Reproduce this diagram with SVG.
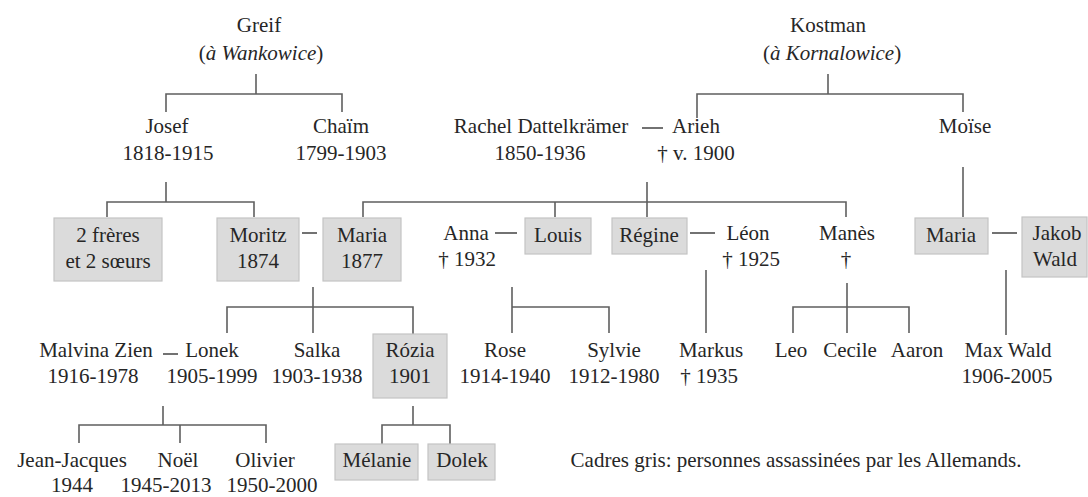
<svg xmlns="http://www.w3.org/2000/svg" width="1088" height="497" viewBox="0 0 1088 497">
<rect width="1088" height="497" fill="#fff"/>
<g id="connectors" fill="none" stroke="#5f5f5f" stroke-width="1.6">
<path d="M256 74V94M166 112V94H342V112"/>
<path d="M828 74V94M697 118V94H963V112"/>
<path d="M166 182V202M107 217V202H254V217"/>
<path d="M647 182V217M363 217V202H846V217M555 202V217"/>
<path d="M963 167V217"/>
<path d="M313 287V333M227 333V307H413V334"/>
<path d="M512 287V333V307H609V333"/>
<path d="M706 270V333"/>
<path d="M847 283V333M793 333V307H909V333"/>
<path d="M1006 270V335"/>
<path d="M163 406V425M79 443V425H266V443M180 425V443"/>
<path d="M413 406V425M382 444V425H450V444"/>
<path stroke="#444" stroke-width="1.3" d="M642 128H663M302 233H317M495 233H517M690 233H715M992 233H1017M163 354H178"/>
</g>
<g id="boxes" fill="#dbdbdb" stroke="#c4c4c4" stroke-width="1.2">
<rect x="54" y="218" width="108" height="63"/>
<rect x="217" y="218" width="82" height="63"/>
<rect x="323" y="218" width="78" height="63"/>
<rect x="525" y="218" width="66" height="36"/>
<rect x="612" y="218" width="75" height="36"/>
<rect x="915" y="218" width="73" height="36"/>
<rect x="1022" y="217" width="65" height="60"/>
<rect x="373" y="334" width="74" height="64"/>
<rect x="335" y="444" width="83" height="36"/>
<rect x="428" y="444" width="67" height="36"/>
</g>
<g id="nodes" fill="#262626" text-anchor="middle">
<g id="greif"><text font-family="Liberation Serif" font-size="21" x="259" y="32">Greif</text><text font-family="Liberation Serif" font-size="21" x="261" y="60">(<tspan font-style="italic">à Wankowice</tspan>)</text></g>
<g id="kostman"><text font-family="Liberation Serif" font-size="21" x="828" y="32">Kostman</text><text font-family="Liberation Serif" font-size="21" x="832" y="60">(<tspan font-style="italic">à Kornalowice</tspan>)</text></g>
<g id="josef"><text font-family="Liberation Serif" font-size="21" x="167" y="133">Josef</text><text font-family="Liberation Serif" font-size="21" x="168" y="160">1818-1915</text></g>
<g id="chaim"><text font-family="Liberation Serif" font-size="21" x="341" y="133">Chaïm</text><text font-family="Liberation Serif" font-size="21" x="341" y="160">1799-1903</text></g>
<g id="rachel"><text font-family="Liberation Serif" font-size="21" x="541" y="133">Rachel Dattelkrämer</text><text font-family="Liberation Serif" font-size="21" x="540" y="160">1850-1936</text></g>
<g id="arieh"><text font-family="Liberation Serif" font-size="21" x="696" y="133">Arieh</text><text font-family="Liberation Serif" font-size="21" x="696" y="160">† v. 1900</text></g>
<g id="moise"><text font-family="Liberation Serif" font-size="21" x="965" y="133">Moïse</text></g>
<g id="freres"><text font-family="Liberation Serif" font-size="21" x="108" y="242">2 frères</text><text font-family="Liberation Serif" font-size="21" x="108" y="268">et 2 sœurs</text></g>
<g id="moritz"><text font-family="Liberation Serif" font-size="21" x="258" y="242">Moritz</text><text font-family="Liberation Serif" font-size="21" x="258" y="268">1874</text></g>
<g id="maria1"><text font-family="Liberation Serif" font-size="21" x="362" y="242">Maria</text><text font-family="Liberation Serif" font-size="21" x="362" y="268">1877</text></g>
<g id="anna"><text font-family="Liberation Serif" font-size="21" x="466" y="240">Anna</text><text font-family="Liberation Serif" font-size="21" x="467" y="266">† 1932</text></g>
<g id="louis"><text font-family="Liberation Serif" font-size="21" x="558" y="242">Louis</text></g>
<g id="regine"><text font-family="Liberation Serif" font-size="21" x="649" y="242">Régine</text></g>
<g id="leon"><text font-family="Liberation Serif" font-size="21" x="748" y="240">Léon</text><text font-family="Liberation Serif" font-size="21" x="751" y="266">† 1925</text></g>
<g id="manes"><text font-family="Liberation Serif" font-size="21" x="847" y="240">Manès</text><text font-family="Liberation Serif" font-size="21" x="846" y="266">†</text></g>
<g id="maria2"><text font-family="Liberation Serif" font-size="21" x="951" y="242">Maria</text></g>
<g id="jakob"><text font-family="Liberation Serif" font-size="21" x="1057" y="240">Jakob</text><text font-family="Liberation Serif" font-size="21" x="1055" y="266">Wald</text></g>
<g id="malvina"><text font-family="Liberation Serif" font-size="21" x="96" y="357">Malvina Zien</text><text font-family="Liberation Serif" font-size="21" x="93" y="383">1916-1978</text></g>
<g id="lonek"><text font-family="Liberation Serif" font-size="21" x="212" y="357">Lonek</text><text font-family="Liberation Serif" font-size="21" x="212" y="383">1905-1999</text></g>
<g id="salka"><text font-family="Liberation Serif" font-size="21" x="317" y="357">Salka</text><text font-family="Liberation Serif" font-size="21" x="317" y="383">1903-1938</text></g>
<g id="rozia"><text font-family="Liberation Serif" font-size="21" x="410" y="357">Rózia</text><text font-family="Liberation Serif" font-size="21" x="410" y="383">1901</text></g>
<g id="rose"><text font-family="Liberation Serif" font-size="21" x="505" y="357">Rose</text><text font-family="Liberation Serif" font-size="21" x="505" y="383">1914-1940</text></g>
<g id="sylvie"><text font-family="Liberation Serif" font-size="21" x="614" y="357">Sylvie</text><text font-family="Liberation Serif" font-size="21" x="614" y="383">1912-1980</text></g>
<g id="markus"><text font-family="Liberation Serif" font-size="21" x="711" y="357">Markus</text><text font-family="Liberation Serif" font-size="21" x="709" y="383">† 1935</text></g>
<g id="leo"><text font-family="Liberation Serif" font-size="21" x="791" y="357">Leo</text></g>
<g id="cecile"><text font-family="Liberation Serif" font-size="21" x="850" y="357">Cecile</text></g>
<g id="aaron"><text font-family="Liberation Serif" font-size="21" x="917" y="357">Aaron</text></g>
<g id="maxwald"><text font-family="Liberation Serif" font-size="21" x="1008" y="357">Max Wald</text><text font-family="Liberation Serif" font-size="21" x="1007" y="383">1906-2005</text></g>
<g id="jeanjacques"><text font-family="Liberation Serif" font-size="21" x="72" y="467">Jean-Jacques</text><text font-family="Liberation Serif" font-size="21" x="72" y="492">1944</text></g>
<g id="noel"><text font-family="Liberation Serif" font-size="21" x="178" y="467">Noël</text><text font-family="Liberation Serif" font-size="21" x="166" y="492">1945-2013</text></g>
<g id="olivier"><text font-family="Liberation Serif" font-size="21" x="265" y="467">Olivier</text><text font-family="Liberation Serif" font-size="21" x="272" y="492">1950-2000</text></g>
<g id="melanie"><text font-family="Liberation Serif" font-size="21" x="377" y="467">Mélanie</text></g>
<g id="dolek"><text font-family="Liberation Serif" font-size="21" x="462" y="467">Dolek</text></g>
<g id="legend"><text font-family="Liberation Serif" font-size="21" x="796" y="467">Cadres gris: personnes assassinées par les Allemands.</text></g>
</g>
</svg>
